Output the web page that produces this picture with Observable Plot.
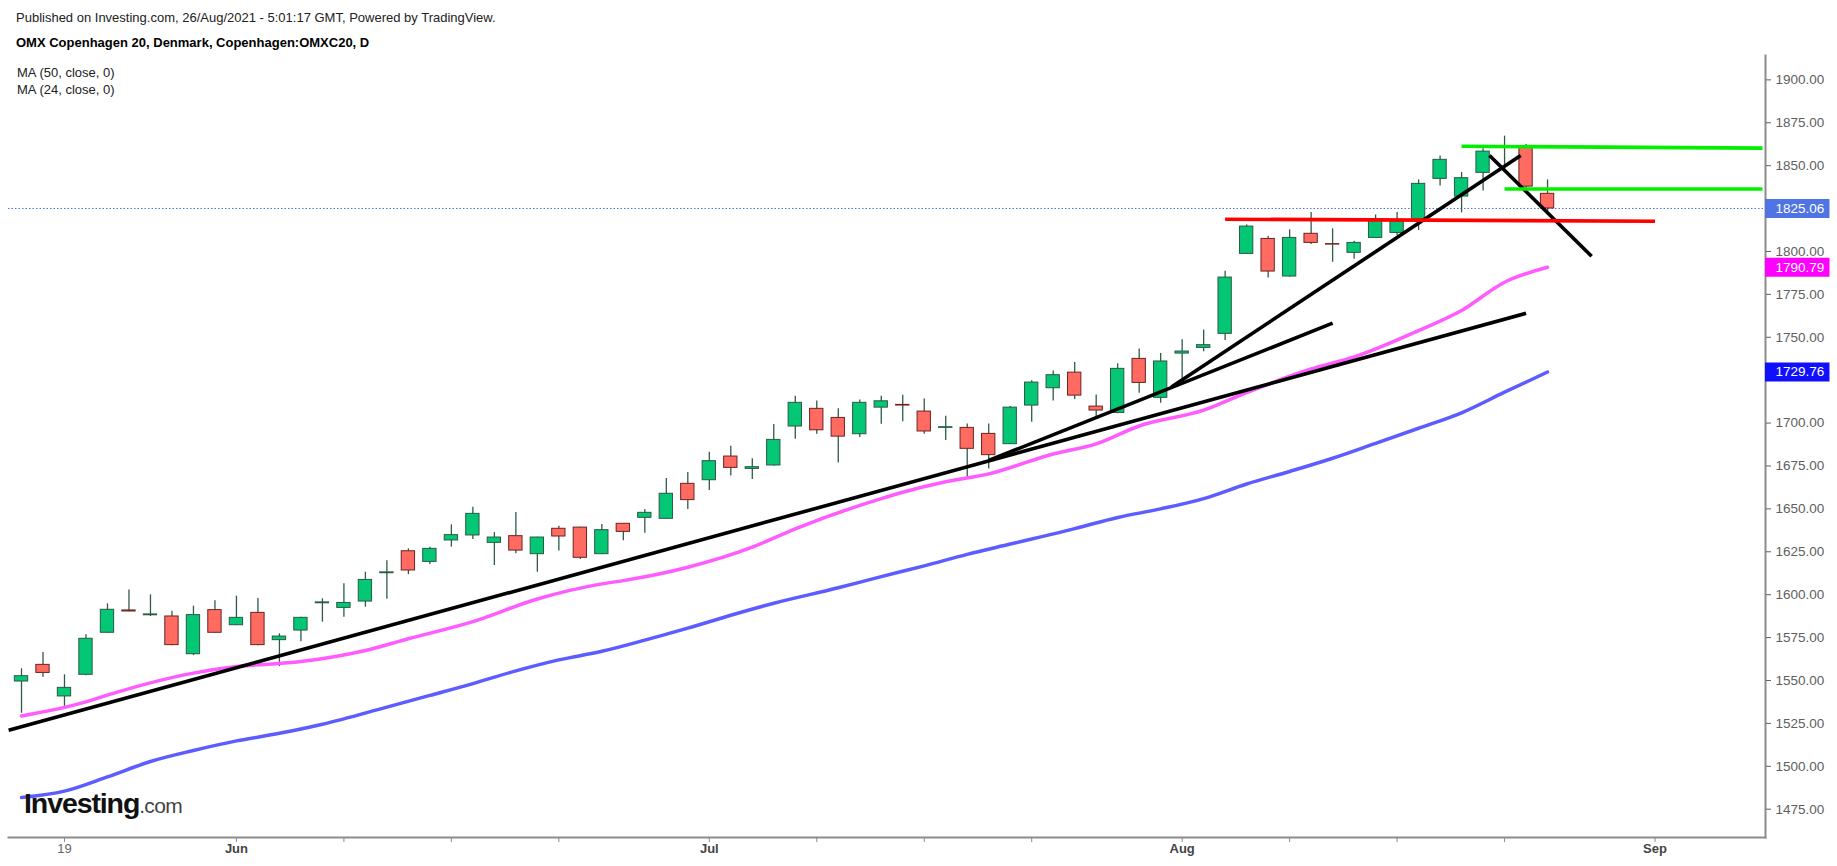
<!DOCTYPE html>
<html><head><meta charset="utf-8">
<script src="https://cdn.jsdelivr.net/npm/d3@7"></script>
<script src="https://cdn.jsdelivr.net/npm/@observablehq/plot@0.6"></script>
<style>
body{margin:0;background:#fff;font-family:"Liberation Sans",Arial,sans-serif;}
#wrap{position:relative;width:1837px;height:866px;overflow:hidden;background:#fff;}
#chart{position:absolute;left:0;top:0;}
.hdr{position:absolute;font-size:13px;color:#222;white-space:nowrap;line-height:1;}
.logo{position:absolute;left:24px;top:789px;font-weight:bold;font-size:28.5px;letter-spacing:-1.1px;color:#111;white-space:nowrap;line-height:1;}
.logo span{font-weight:normal;font-size:21px;color:#444;letter-spacing:-0.7px;}
</style></head><body>
<div id="wrap">
<div id="chart"></div>
<div class="hdr" style="left:16px;top:11px;">Published on Investing.com, 26/Aug/2021 - 5:01:17 GMT, Powered by TradingView.</div>
<div class="hdr" style="left:16px;top:36px;font-weight:bold;color:#000;">OMX Copenhagen 20, Denmark, Copenhagen:OMXC20, D</div>
<div class="hdr" style="left:17px;top:66px;">MA (50, close, 0)</div>
<div class="hdr" style="left:17px;top:83px;">MA (24, close, 0)</div>
<div class="logo">Investing<span>.com</span></div>
</div>
<script>
// Trading days (index 0 = 17 May 2021 ... index 71 = 25 Aug 2021)
const openP  = [1549.4,1559.1,1540.7,1553.3,1577.8,1590.8,1588.0,1587.3,1565.3,1591.0,1582.2,1589.4,1573.5,1579.1,1595.0,1592.3,1596.0,1612.5,1625.3,1619.1,1631.6,1634.5,1630.2,1634.1,1623.6,1638.4,1639.1,1623.6,1641.3,1644.8,1644.2,1664.6,1666.7,1680.5,1673.3,1675.3,1698.0,1708.3,1703.0,1693.5,1709.0,1710.6,1706.7,1697.2,1697.2,1693.7,1687.7,1710.2,1720.3,1729.4,1709.6,1705.9,1737.4,1714.7,1740.5,1743.8,1752.0,1798.6,1807.3,1785.4,1810.3,1804.3,1799.2,1807.9,1810.8,1818.6,1842.3,1832.0,1845.8,1860.6,1860.4,1833.6];
const highP  = [1556.8,1566.3,1553.3,1576.6,1594.7,1602.8,1599.9,1590.4,1593.3,1596.4,1599.1,1597.8,1577.2,1586.9,1597.6,1606.3,1613.1,1619.7,1626.7,1627.7,1640.7,1651.0,1636.2,1647.9,1633.5,1639.9,1639.3,1640.9,1641.5,1649.6,1667.7,1671.2,1683.0,1686.5,1679.2,1699.2,1715.6,1712.9,1708.3,1713.5,1715.6,1716.2,1714.1,1704.0,1699.5,1699.5,1709.6,1724.6,1730.4,1735.3,1716.4,1734.5,1743.2,1740.5,1748.5,1754.3,1788.5,1815.5,1808.9,1812.6,1822.7,1813.2,1806.0,1821.3,1822.7,1841.7,1855.7,1846.0,1859.8,1867.2,1862.3,1841.7];
const lowP   = [1530.9,1551.9,1533.1,1552.8,1577.5,1590.0,1587.3,1570.2,1564.5,1577.5,1582.0,1570.2,1558.1,1572.5,1584.0,1586.9,1592.7,1597.4,1611.7,1617.6,1627.7,1632.1,1617.0,1623.8,1613.1,1625.5,1620.5,1623.4,1631.4,1635.8,1644.0,1649.6,1660.7,1669.2,1667.1,1675.0,1690.6,1693.5,1676.8,1691.6,1699.3,1700.7,1693.5,1689.8,1668.1,1673.3,1687.5,1700.5,1712.9,1713.7,1703.0,1705.5,1717.4,1711.6,1725.8,1741.5,1748.1,1798.2,1784.6,1785.0,1804.0,1793.7,1795.5,1807.7,1809.3,1812.2,1838.2,1822.5,1835.3,1847.2,1836.5,1822.9];
const closeP = [1552.5,1554.4,1545.7,1574.3,1591.2,1590.2,1588.5,1570.6,1588.1,1577.8,1586.5,1570.6,1575.6,1586.5,1595.5,1595.2,1608.6,1613.0,1614.1,1626.7,1634.7,1647.1,1633.3,1625.7,1633.3,1633.9,1621.5,1637.6,1636.6,1647.7,1658.8,1655.1,1677.8,1673.9,1674.3,1690.2,1711.8,1695.8,1692.1,1711.8,1712.7,1710.2,1695.1,1697.6,1685.0,1681.3,1709.0,1723.6,1727.9,1716.0,1707.3,1731.6,1723.4,1735.9,1741.7,1745.4,1784.8,1814.5,1788.3,1807.9,1805.0,1804.0,1805.0,1818.4,1817.4,1839.4,1853.4,1842.7,1858.2,1860.8,1837.8,1825.06];

// Moving averages (trading-day index, value)
const ma24Idx = [0,3,4,8,10,13,16,18,21,24,27,28,31,34,36,40,41,43,45,48,50,52,55,57,60,62,65,67,69,71];
const ma24Val = [1529.3,1537.5,1541.5,1554.3,1558.1,1561.0,1567.5,1574.3,1584.3,1597.5,1606.3,1608.2,1616.0,1627.7,1638.4,1656.0,1659.7,1665.8,1670.4,1682.0,1687.9,1698.3,1707.5,1717.8,1731.5,1738.5,1753.9,1765.6,1782.1,1790.79];
const ma50Idx = [0,2,4,6,8,10,12,14,17,19,21,23,25,27,29,31,33,35,38,40,42,44,46,49,51,53,55,57,59,61,63,65,67,69,71];
const ma50Val = [1481.8,1485.5,1493.8,1502.8,1509.2,1514.8,1519.2,1524.5,1534.5,1541.3,1548.2,1555.6,1562.0,1567.0,1573.5,1580.5,1588.0,1595.0,1604.0,1610.5,1616.8,1623.5,1629.5,1638.5,1645.0,1650.0,1656.0,1664.5,1671.8,1679.5,1688.2,1697.0,1706.0,1718.0,1729.76];

// Drawn trend lines (index, value endpoints)
const drawX1 = [-0.6, 45.0, 53.5, 68.3, 67.0, 69.0, 56.0];
const drawY1 = [1521.0, 1678.2, 1721.0, 1855.9, 1861.3, 1836.4, 1818.8];
const drawX2 = [70.0, 61.0, 69.75, 73.05, 81.0, 81.0, 76.0];
const drawY2 = [1764.0, 1758.2, 1855.9, 1797.2, 1860.2, 1836.4, 1817.6];
const drawColor = ["#000000","#000000","#000000","#000000","#00f000","#00f000","#ff0000"];

// Axis ticks
const xTickIdx = [2,10,15,20,25,32,37,42,47,54,59,64,69,76];
const xTickLabel = ["19","Jun","","","","Jul","","","","Aug","","","","Sep"];
const yTicks = [1475,1500,1525,1550,1575,1600,1625,1650,1675,1700,1725,1750,1775,1800,1825,1850,1875,1900];

// Price tags on the right axis
const tagValue = [1825.06, 1790.79, 1729.76];
const tagColor = ["#4f74e3", "#ff00ff", "#1010ff"];
const lastPrice = [1825.06];

const candles = openP.map((o, i) => ({i, o, h: highP[i], l: lowP[i], c: closeP[i], up: closeP[i] >= o}));
const ma24 = ma24Idx.map((x, k) => ({x, v: ma24Val[k]}));
const ma50 = ma50Idx.map((x, k) => ({x, v: ma50Val[k]}));
const drawings = drawX1.map((x, k) => ({x1: x, y1: drawY1[k], x2: drawX2[k], y2: drawY2[k], color: drawColor[k]}));
const ticks = xTickIdx.map((i, k) => ({i, t: xTickLabel[k]}));
const dayLabels = ticks.filter(d => /^\d+$/.test(d.t));
const monthLabels = ticks.filter(d => d.t && !/^\d+$/.test(d.t));
const tags = tagValue.map((v, k) => ({v, color: tagColor[k]}));
// tick labels hidden behind a price tag (as in the reference)
const hiddenTick = v => tagValue.some(t => Math.abs(t - v) < 6);

const xMin = -0.605, xMax = 81.14;
const font = "Liberation Sans, Arial, sans-serif";

const plot = Plot.plot({
  width: 1837, height: 866,
  marginLeft: 8, marginRight: 72, marginTop: 55, marginBottom: 29,
  x: {type: "linear", domain: [xMin, xMax], axis: null},
  y: {type: "linear", domain: [1458.5, 1914.2], axis: null},
  style: {background: "transparent", fontFamily: font},
  marks: [
    Plot.ruleY(lastPrice, {y: d => d, stroke: "#4a6ee0", strokeWidth: 1, strokeDasharray: "1.5,2"}),
    Plot.ruleX(candles, {x: "i", y1: "l", y2: "h", stroke: "#2f5b45", strokeWidth: 1.3}),
    Plot.rect(candles, {
      x1: d => d.i - 0.31, x2: d => d.i + 0.31,
      y1: d => Math.min(d.o, d.c), y2: d => Math.max(d.o, d.c),
      fill: d => d.up ? "#03c774" : "#ff6b61",
      stroke: d => d.up ? "#2a5a42" : "#6e2222", strokeWidth: 1
    }),
    Plot.line(ma50, {x: "x", y: "v", stroke: "#5c5cff", strokeWidth: 3.5, curve: "monotone-x"}),
    Plot.line(ma24, {x: "x", y: "v", stroke: "#ff5cff", strokeWidth: 3.5, curve: "monotone-x"}),
    Plot.link(drawings, {x1: "x1", y1: "y1", x2: "x2", y2: "y2", stroke: "color", strokeWidth: 3.6}),
    Plot.frame({anchor: "right", stroke: "#8c8c8c", strokeWidth: 2}),
    Plot.frame({anchor: "bottom", stroke: "#8c8c8c", strokeWidth: 2}),
    Plot.axisX({ticks: xTickIdx, tickSize: 5, tickFormat: () => "", stroke: "#8c8c8c", label: null}),
    Plot.text(dayLabels, {x: "i", text: "t", frameAnchor: "bottom", dy: 15, fontSize: 13, fill: "#666"}),
    Plot.text(monthLabels, {x: "i", text: "t", frameAnchor: "bottom", dy: 15, fontSize: 13, fontWeight: "bold", fill: "#444"}),
    Plot.axisY({anchor: "right", ticks: yTicks, tickFormat: d => hiddenTick(d) ? "" : d.toFixed(2), tickSize: 5, tickPadding: 5, fontSize: 13.5, color: "#606060", label: null}),
    Plot.ruleY(tags, {y: "v", x1: () => xMax, x2: () => xMax + 3.0, stroke: "color", strokeWidth: 19}),
    Plot.text(tags, {y: "v", x: () => xMax, text: d => d.v.toFixed(2), dx: 10, textAnchor: "start", fill: "white", fontSize: 13.5})
  ]
});
document.getElementById("chart").appendChild(plot);
</script>
</body></html>
